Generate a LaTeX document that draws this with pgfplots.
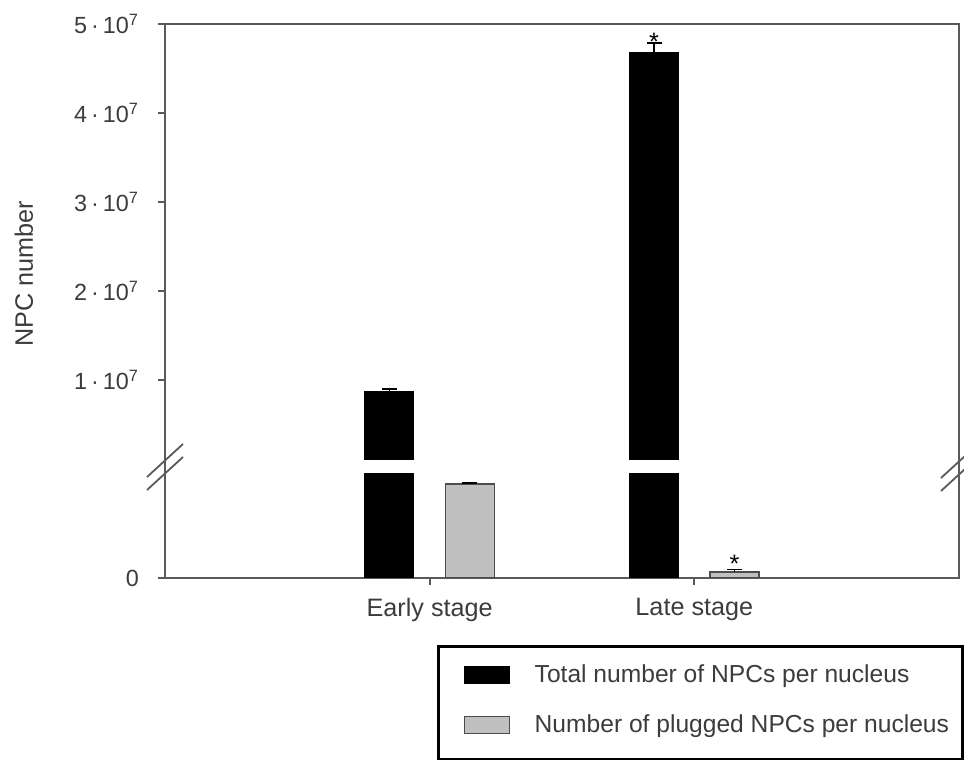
\documentclass[border=0pt]{standalone}
\usepackage{pgfplots}
\pgfplotsset{compat=1.18}
\usepackage{pgfplotstable}
\usepackage{fontspec}
\setmainfont{Liberation Sans}
\definecolor{axisgray}{HTML}{5A5A5A}
\definecolor{txtgray}{HTML}{3C3C3C}
\definecolor{bargray}{HTML}{C0C0C0}

% Total number of NPCs per nucleus (values in units of 10^7, upper scale)
\pgfplotstableread{
x      v      e
-0.152 0.876  0.02
0.848  4.685  0.10
}\totaltab
% Number of plugged NPCs per nucleus (lower, broken scale, display units)
\pgfplotstableread{
x      y      e
0.152  1.056  0.012
1.152  0.067  0.030
}\pluggedtab

\newcommand{\fs}{\fontsize{12.6pt}{15pt}\selectfont}
\newcommand{\fl}{\fontsize{12.3pt}{15pt}\selectfont}
\newcommand{\fy}{\fontsize{11.7pt}{14pt}\selectfont}
\newcommand{\sci}[1]{#1\,·\,10\textsuperscript{7}}
\begin{document}
\begin{tikzpicture}
\useasboundingbox (0,0) rectangle (482pt,380pt);
\begin{axis}[
  at={(82.5pt,91pt)}, anchor=south west,
  scale only axis, width=397pt, height=277pt,
  xmin=-1, xmax=2, ymin=0, ymax=6.225,
  axis line style={axisgray, line width=1pt},
  tick style={axisgray, line width=1pt},
  tick align=outside, major tick length=3.5pt,
  xtick pos=bottom, ytick pos=left,
  xtick={0,1}, xticklabels={Early stage, Late stage},
  ytick={0,2.225,3.225,4.225,5.225,6.225},
  yticklabels={0, \sci{1}, \sci{2}, \sci{3}, \sci{4}, \sci{5}},
  xticklabel style={font=\fs, text=txtgray, yshift=-3pt},
  yticklabel style={font=\fy, text=txtgray, xshift=-6pt},
  ylabel={NPC number},
  ylabel style={at={(axis description cs:-0.1776,0.5496)}, anchor=center, font=\fs, text=txtgray},
  ybar, bar width=24.5pt, bar shift=0pt,
  legend style={at={(axis description cs:0.3426,-0.1209)}, anchor=north west,
    draw=black, line width=1.5pt, font=\fl, text=txtgray,
    inner xsep=6.5pt, inner ysep=9pt, row sep=14.5pt, column sep=12.5pt,
    nodes={inner sep=0pt}},
  legend cell align=left,
]
\addplot[fill=black, draw=black, line width=0.5pt,
  legend image code/.code={\path (0pt,0pt); \draw[fill=black, draw=black, line width=0.5pt] (6pt,-4.25pt) rectangle (28.5pt,4.25pt);},
  error bars/.cd, y dir=plus, y explicit,
  error bar style={black, line width=0.8pt},
  error mark options={rotate=90, mark size=3.75pt, black, line width=0.8pt}]
  table[x=x, y expr=\thisrow{v}+1.225, y error=e] {\totaltab};
\addlegendentry{Total number of NPCs per nucleus}
\addplot[fill=bargray, draw=black!70, line width=0.6pt,
  legend image code/.code={\path (0pt,0pt) (0pt,-8pt); \draw[fill=bargray, draw=black!70, line width=0.6pt] (6pt,-4.25pt) rectangle (28.5pt,4.25pt);},
  error bars/.cd, y dir=plus, y explicit,
  error bar style={black, line width=0.8pt},
  error mark options={rotate=90, mark size=3.75pt, black, line width=0.8pt}]
  table[x=x, y=y, y error=e] {\pluggedtab};
\addlegendentry{Number of plugged NPCs per nucleus}
% axis break band across the black bars
\fill[white] (axis cs:-0.35,1.180) rectangle (axis cs:0.98,1.326);
\node[anchor=base, inner sep=0pt, font=\fs] at (axis cs:0.848,5.927) {*};
\node[anchor=base, inner sep=0pt, font=\fs] at (axis cs:1.152,0.062) {*};
\end{axis}
% break marks on the vertical axes
\draw[axisgray, line width=0.9pt] (73.5pt,141.5pt) -- (91.5pt,158pt);
\draw[axisgray, line width=0.9pt] (73.5pt,135pt) -- (91.5pt,151.5pt);
\draw[axisgray, line width=0.9pt] (470.5pt,141pt) -- (488.5pt,157.5pt);
\draw[axisgray, line width=0.9pt] (470.5pt,134.5pt) -- (488.5pt,151pt);
\end{tikzpicture}
\end{document}
